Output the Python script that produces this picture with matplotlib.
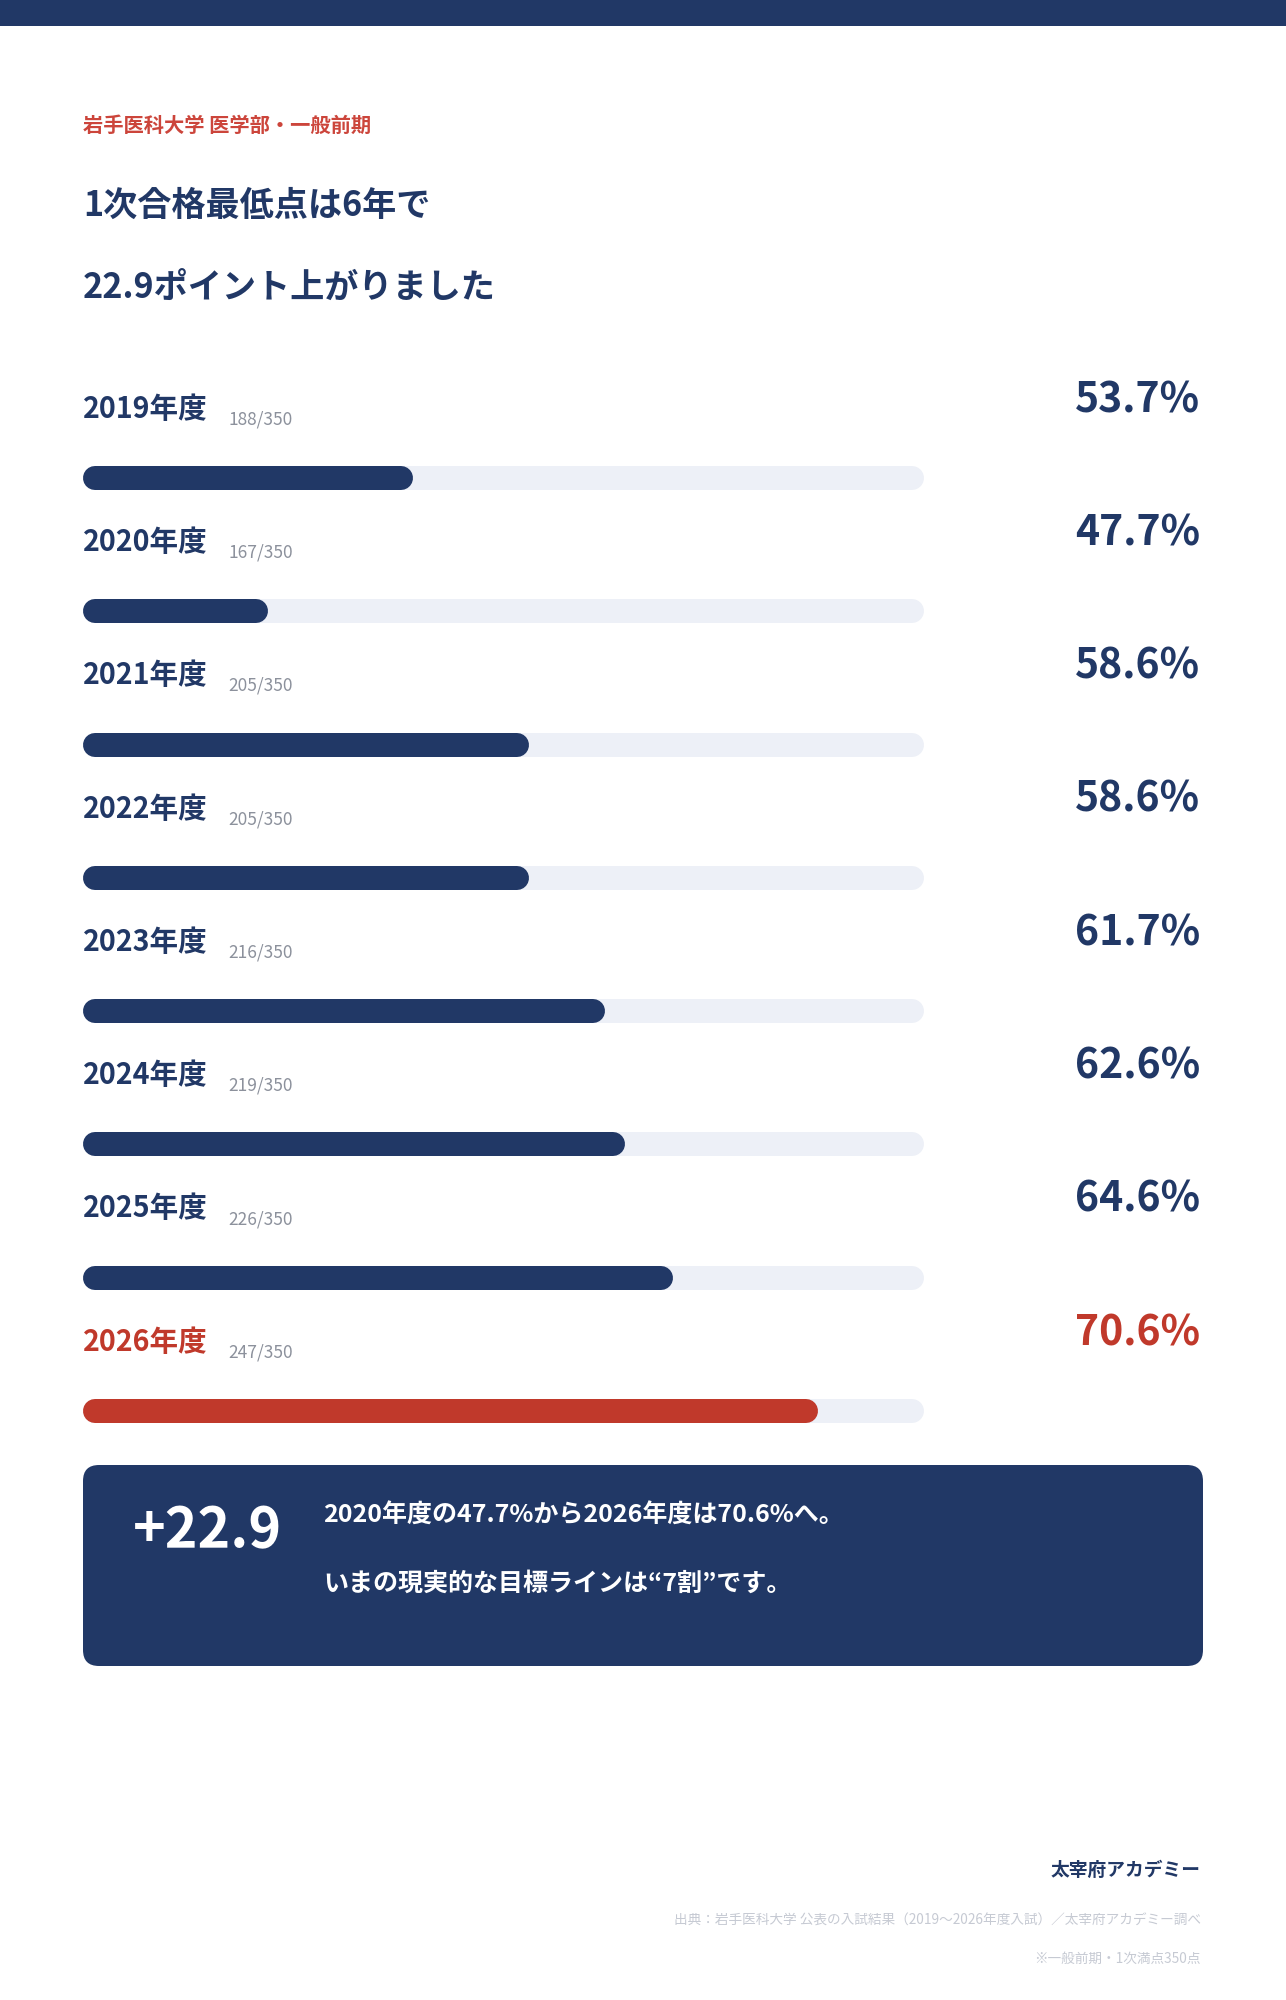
"""
Iwate Medical Univ. first-stage minimum pass score, 2019-2026, as progress bars
"""

import matplotlib
matplotlib.use('Agg')
import matplotlib.pyplot as plt
from matplotlib.patches import Rectangle, FancyBboxPatch

# Data
years = ['2019年度', '2020年度', '2021年度', '2022年度',
         '2023年度', '2024年度', '2025年度', '2026年度']
scores = [188, 167, 205, 205, 216, 219, 226, 247]
full_score = 350
pct_labels = ['53.7%', '47.7%', '58.6%', '58.6%',
              '61.7%', '62.6%', '64.6%', '70.6%']

subtitle = '岩手医科大学 医学部・一般前期'
title_lines = ['1次合格最低点は6年で', '22.9ポイント上がりました']
delta_label = '+22.9'
summary_lines = ['2020年度の47.7%から2026年度は70.6%へ。',
                 'いまの現実的な目標ラインは“7割”です。']
brand = '太宰府アカデミー'
source = '出典：岩手医科大学 公表の入試結果（2019〜2026年度入試）／太宰府アカデミー調べ'
note = '※一般前期・1次満点350点'

# Style
NAVY = '#213866'
RED = '#c0392b'
TRACK = '#edf0f7'
GRAY = '#8c919c'
LIGHT = '#c6cad3'
W, H = 1286, 2000
X0, X1 = 40, 75          # scale of the bar track (%)
BAR_PX = 24


def fx(x):
    return x / W


def fy(y):
    return 1 - y / H


def main():
    plt.rcParams['font.family'] = ['Noto Sans CJK JP', 'DejaVu Sans']
    fig = plt.figure(figsize=(W / 100, H / 100), dpi=100)
    fig.patch.set_facecolor('white')

    # top band
    fig.add_artist(Rectangle((0, fy(26)), 1, 26 / H, transform=fig.transFigure,
                             color=NAVY, lw=0))

    # header
    fig.text(fx(83), fy(125), subtitle, color='#cc453b', fontsize=14.6,
             fontweight='bold', va='center')
    fig.text(fx(83), fy(205), title_lines[0], color=NAVY, fontsize=24.6,
             fontweight='bold', va='center')
    fig.text(fx(83), fy(287), title_lines[1], color=NAVY, fontsize=24.6,
             fontweight='bold', va='center')

    # bars axes: rows 0..7, row step 133.3 px, first row at 478 px
    row0, step = 478, 133.3
    top_px = row0 - step
    bot_px = row0 + 7.5 * step
    ax = fig.add_axes([fx(83), fy(bot_px), fx(924) - fx(83),
                       (bot_px - top_px) / H])
    ax.set_xlim(X0, X1)
    ax.set_ylim(7.5, -1)
    ax.axis('off')

    px_per_unit = (924 - 83) / (X1 - X0)
    r = (BAR_PX / 2) / px_per_unit
    lw = BAR_PX * 72 / 100
    n = len(years)
    for i in range(n):
        pct = scores[i] / full_score * 100
        col = RED if i == n - 1 else NAVY
        ax.plot([X0 + r, X1 - r], [i, i], color=TRACK, lw=lw,
                solid_capstyle='round')
        ax.plot([X0 + r, pct - r], [i, i], color=col, lw=lw,
                solid_capstyle='round')
        ax.text(X0, i - 0.52, years[i], color=col, fontsize=20.6,
                fontweight='bold', va='center', ha='left')
        ax.text(X0 + 145 / px_per_unit, i - 0.44,
                f'{scores[i]}/{full_score}', color=GRAY, fontsize=12.5,
                va='center', ha='left')
        ax.text(X0 + (1200 - 83) / px_per_unit, i - 0.585, pct_labels[i],
                color=col, fontsize=29.5, fontweight='bold', va='center',
                ha='right', clip_on=False)

    # summary box
    bx, by, bw, bh = 83, 1465, 1120, 201
    axb = fig.add_axes([fx(bx), fy(by + bh), bw / W, bh / H])
    axb.set_xlim(0, bw)
    axb.set_ylim(bh, 0)
    axb.axis('off')
    axb.add_patch(FancyBboxPatch((0, 0), bw, bh,
                                 boxstyle='round,pad=0,rounding_size=16',
                                 color=NAVY, lw=0))
    axb.text(50, 66, delta_label, color='white', fontsize=40,
             fontweight='bold', va='center', ha='left')
    axb.text(240, 51, summary_lines[0], color='white', fontsize=18,
             fontweight='bold', va='center', ha='left')
    axb.text(240, 119, summary_lines[1], color='white', fontsize=18,
             fontweight='bold', va='center', ha='left')

    # footer
    fig.text(fx(1201), fy(1870), brand, color=NAVY, fontsize=13.5,
             fontweight='bold', va='center', ha='right')
    fig.text(fx(1201), fy(1921), source, color=LIGHT, fontsize=9.85,
             va='center', ha='right')
    fig.text(fx(1201), fy(1959), note, color=LIGHT, fontsize=9.85,
             va='center', ha='right')

    fig.savefig('out.png', dpi=100)


if __name__ == '__main__':
    main()
